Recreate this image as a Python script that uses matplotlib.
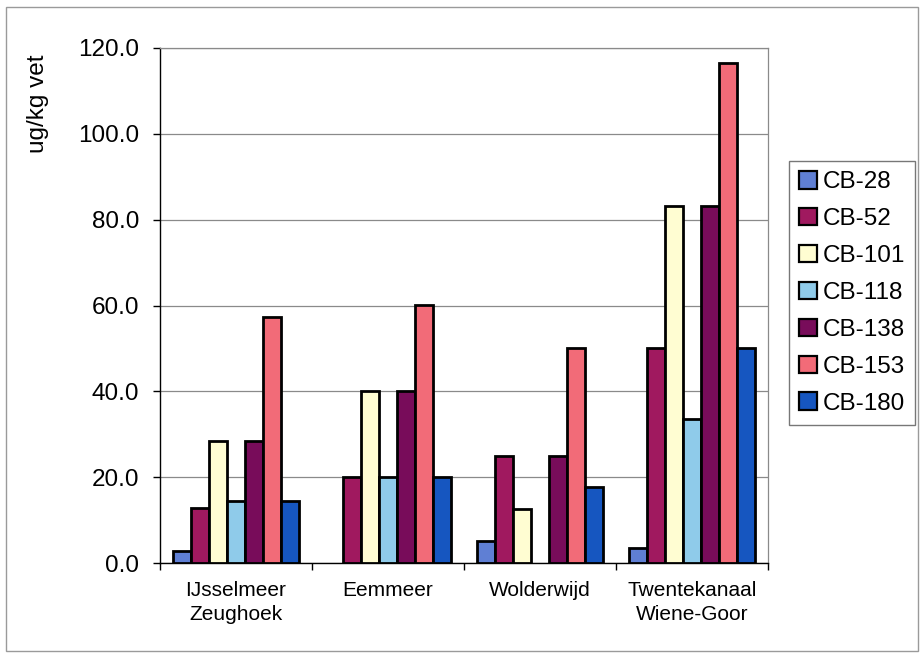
import matplotlib
matplotlib.use("Agg")
import matplotlib.pyplot as plt
import numpy as np
from matplotlib.patches import Rectangle, Patch

plt.rcParams["font.family"] = ["Liberation Sans", "DejaVu Sans"]

CATEGORIES = ["IJsselmeer\nZeughoek", "Eemmeer", "Wolderwijd", "Twentekanaal\nWiene-Goor"]
SERIES = ["CB-28", "CB-52", "CB-101", "CB-118", "CB-138", "CB-153", "CB-180"]
# nan = no bar in the original chart
CB_28 = [2.9, np.nan, 5.1, 3.4]
CB_52 = [12.8, 20.0, 24.9, 50.0]
CB_101 = [28.5, 40.0, 12.5, 83.3]
CB_118 = [14.4, 20.0, np.nan, 33.5]
CB_138 = [28.5, 40.0, 24.9, 83.3]
CB_153 = [57.3, 60.2, 50.0, 116.5]
CB_180 = [14.4, 20.0, 17.6, 50.0]
VALUES = [CB_28, CB_52, CB_101, CB_118, CB_138, CB_153, CB_180]
COLORS = ["#5F7FD4", "#A0195F", "#FFFDD2", "#8FCBEA", "#780C5A", "#F26B78", "#1656C0"]

fig = plt.figure(figsize=(9.24, 6.56), dpi=100)
fig.patches.append(Rectangle((6 / 924, 1 - 651 / 656), 912 / 924, 644 / 656,
                             transform=fig.transFigure, fill=False,
                             edgecolor="#9a9a9a", linewidth=1.0))
ax = fig.add_axes([160 / 924, 1 - 563 / 656, 608 / 924, 515 / 656])

n = len(SERIES)
bar_w = 1.0 / (n + 1.5)
x = np.arange(len(CATEGORIES))
for i, (name, vals, col) in enumerate(zip(SERIES, VALUES, COLORS)):
    offs = (i - (n - 1) / 2) * bar_w
    ax.bar(x + offs, vals, bar_w, color=col, edgecolor="black", linewidth=2.0,
           label=name, zorder=3)

ax.set_xlim(-0.5, len(CATEGORIES) - 0.5)
ax.set_ylim(0, 120)
ax.set_yticks(np.arange(0, 121, 20))
ax.set_yticklabels([f"{v:.1f}" for v in np.arange(0, 121, 20)], fontsize=17.5)
ax.yaxis.grid(True, color="#8a8a8a", linewidth=0.9, zorder=0)
ax.tick_params(axis="y", direction="out", length=5, width=1, pad=10)

ax.set_xticks(x)
ax.set_xticklabels(CATEGORIES, fontsize=15, linespacing=1.35)
ax.tick_params(axis="x", which="major", length=0, pad=13)
ax.set_xticks(np.arange(-0.5, len(CATEGORIES)), minor=True)
ax.tick_params(axis="x", which="minor", direction="out", length=5, width=1)

for side in ["top", "right"]:
    ax.spines[side].set_color("#8a8a8a")
    ax.spines[side].set_linewidth(0.9)
for side in ["left", "bottom"]:
    ax.spines[side].set_color("black")
    ax.spines[side].set_linewidth(1.0)

fig.text(38 / 924, 1 - 104 / 656, "ug/kg vet", rotation=90, fontsize=17.5,
         ha="center", va="center")

handles = [Patch(facecolor=c, edgecolor="black", linewidth=1.6) for c in COLORS]
leg = fig.legend(handles, SERIES, loc="upper left",
                 bbox_to_anchor=(789 / 924, 1 - 161 / 656), fontsize=17.5,
                 frameon=True, fancybox=False, handlelength=0.75,
                 handleheight=0.75, handletextpad=0.25, labelspacing=0.6,
                 borderpad=0.4, borderaxespad=0)
leg.get_frame().set_edgecolor("#555555")
leg.get_frame().set_linewidth(1.0)

fig.savefig("out.png", dpi=100)
